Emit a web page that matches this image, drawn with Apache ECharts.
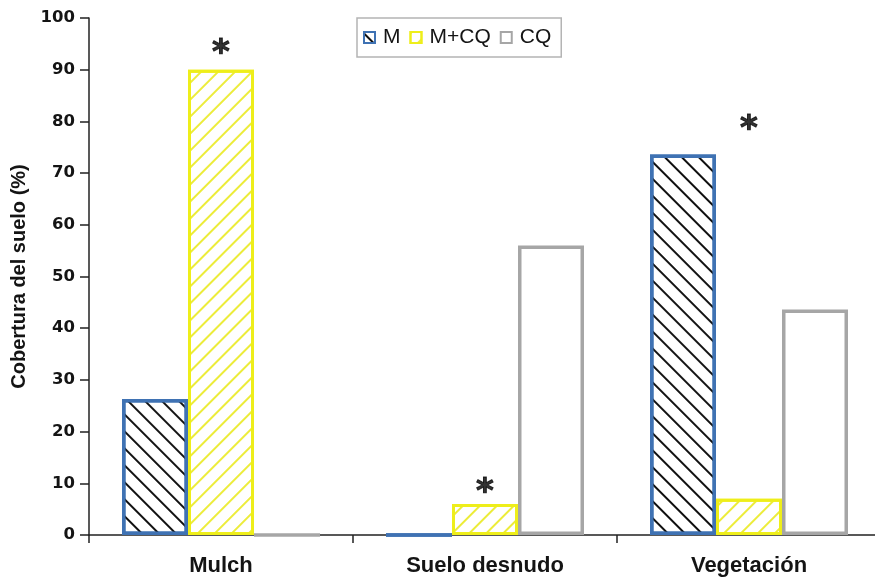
<!DOCTYPE html>
<html><head><meta charset="utf-8">
<script src="https://cdn.jsdelivr.net/npm/echarts@6/dist/echarts.min.js"></script>
<style>html,body{margin:0;padding:0;background:#fff}#c{width:875px;height:578px}</style>
</head><body><div id="c"></div>
<script>
const categories = ['Mulch', 'Suelo desnudo', 'Vegetación'];
const seriesNames = ['M', 'M+CQ', 'CQ'];
const valuesM = [26.3, 0, 73.6];
const valuesMCQ = [90, 6, 7];
const valuesCQ = [0, 56, 43.6];
const asteriskY = [94.5, 9.7, 79.8];
const yTicks = [0, 10, 20, 30, 40, 50, 60, 70, 80, 90, 100];

const chart = echarts.init(document.getElementById('c'), null, {renderer: 'canvas'});
const txt = '#141414';
const stripe = (color, rot, w) => ({
  symbol: 'rect', symbolSize: 1, color: color,
  dashArrayX: [1, 0], dashArrayY: [w, 10.4 - w], rotation: rot
});
chart.setOption({
  animation: false,
  backgroundColor: '#fff',
  grid: {left: 89, top: 18, width: 792, bottom: 43, containLabel: false, outerBoundsMode: 'none'},
  legend: {
    left: 357, top: 18, icon: 'rect', itemWidth: 11, itemHeight: 11, itemGap: 9,
    padding: [9, 10, 9, 6],
    borderColor: '#b4b4b4', borderWidth: 1.5,
    textStyle: {fontFamily: 'Liberation Sans', fontSize: 21, color: txt, padding: [0, 0, 0, 3]},
    data: seriesNames
  },
  xAxis: {
    type: 'category', data: categories,
    axisLine: {lineStyle: {color: '#222', width: 1.5}},
    axisTick: {show: true, length: 8, lineStyle: {color: '#222', width: 1.5}},
    axisLabel: {fontFamily: 'Liberation Sans', fontWeight: 'bold', fontSize: 22, color: txt, margin: 20}
  },
  yAxis: {
    type: 'value', min: 0, max: 100, interval: 10,
    name: 'Cobertura del suelo (%)', nameLocation: 'middle', nameGap: 60,
    nameTextStyle: {fontFamily: 'Liberation Sans', fontWeight: 'bold', fontSize: 20, color: txt},
    axisLine: {show: true, lineStyle: {color: '#222', width: 1.5}},
    axisTick: {show: true, length: 9, lineStyle: {color: '#222', width: 1.5}},
    splitLine: {show: false},
    axisLabel: {fontFamily: 'DejaVu Sans', fontWeight: 'bold', fontSize: 16.5, color: txt, margin: 14,
      formatter: v => yTicks.includes(v) ? String(v) : ''}
  },
  series: [
    {name: 'M', type: 'bar', data: valuesM, barGap: '0%', barCategoryGap: '25%',
     itemStyle: {color: '#fff', borderColor: '#3f72b3', borderWidth: 3.5, decal: stripe('#111', Math.PI / 4, 1.2)}},
    {name: 'M+CQ', type: 'bar', data: valuesMCQ,
     itemStyle: {color: '#fff', borderColor: '#eeee1a', borderWidth: 3, decal: stripe('#ecec3a', -Math.PI / 4, 1.1)}},
    {name: 'CQ', type: 'bar', data: valuesCQ,
     itemStyle: {color: '#fff', borderColor: '#a6a6a6', borderWidth: 3.5}},
    {name: 'ast', type: 'scatter', data: asteriskY, symbolSize: 0, silent: true,
     label: {show: true, position: 'inside', formatter: '*', fontFamily: 'DejaVu Sans', fontWeight: 'bold', fontSize: 34, color: '#000',
       textBorderColor: '#000', textBorderWidth: 1, offset: [0, 8]}}
  ]
});
</script></body></html>
